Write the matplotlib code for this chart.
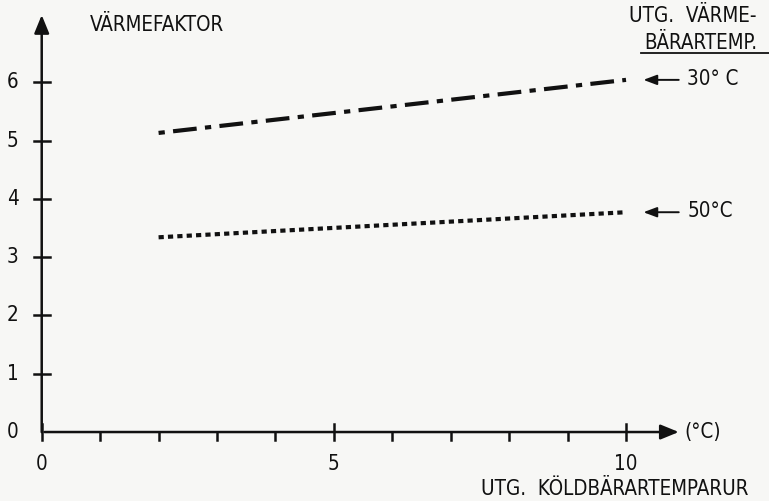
import matplotlib
matplotlib.use('Agg')
import matplotlib.pyplot as plt

# data
temp_in = [2, 10]              # utg. koldbarartemperatur (degC)
cop_30 = [5.13, 6.04]          # utg. varmebarartemp 30 C
cop_50 = [3.34, 3.77]          # utg. varmebarartemp 50 C
xticks = list(range(0, 11))
xlabels = ['0', '5', '10']
yticks = [1, 2, 3, 4, 5, 6]
ylabels = ['0', '1', '2', '3', '4', '5', '6']

plt.rcParams['font.family'] = ['DejaVu Sans']
plt.rcParams['font.stretch'] = 'condensed'
ink = '#111111'
fs = 14.8

fig = plt.figure(figsize=(7.69, 5.01), dpi=100)
fig.patch.set_facecolor('#f7f7f5')
ax = fig.add_axes([0, 0, 1, 1])
ax.set_facecolor('#f7f7f5')
ax.set_xlim(-0.714, 12.447)
ax.set_ylim(-1.183, 7.41)

for s in ax.spines.values():
    s.set_visible(False)
ax.set_xticks([])
ax.set_yticks([])

# axes with arrows
ax.annotate('', xy=(10.95, 0), xytext=(0, 0),
            arrowprops=dict(arrowstyle='-|>,head_length=1.1,head_width=0.45', lw=1.8, color=ink))
ax.annotate('', xy=(0, 7.2), xytext=(0, -0.05),
            arrowprops=dict(arrowstyle='-|>,head_length=1.1,head_width=0.45', lw=1.8, color=ink))

# ticks
for t in xticks:
    if t % 5 == 0:
        ax.plot([t, t], [-0.13, 0.13], color=ink, lw=1.8)
    else:
        ax.plot([t, t], [-0.13, 0], color=ink, lw=1.8)
for t in yticks:
    ax.plot([-0.14, 0.14], [t, t], color=ink, lw=1.8)

for i, lab in enumerate(xlabels):
    ax.text(i * 5, -0.55, lab, ha='center', va='center', fontsize=fs, color=ink)
for i, lab in enumerate(ylabels):
    ax.text(-0.5, i, lab, ha='center', va='center', fontsize=fs, color=ink)

ax.text(11.0, 0, '(°C)', ha='left', va='center', fontsize=fs, color=ink)
ax.text(0.83, 6.98, 'VÄRMEFAKTOR', ha='left', va='center', fontsize=fs, color=ink)
ax.text(12.09, -0.98, 'UTG.  KÖLDBÄRARTEMPARUR', ha='right', va='center', fontsize=fs, color=ink)
ax.text(12.24, 7.13, 'UTG.  VÄRME-', ha='right', va='center', fontsize=fs, color=ink)
ax.text(12.24, 6.67, 'BÄRARTEMP.', ha='right', va='center', fontsize=fs, color=ink)
ax.plot([10.25, 12.45], [6.50, 6.50], color=ink, lw=1.3)

# curves
ax.plot(temp_in, cop_30, color=ink, lw=3.0, solid_capstyle='butt',
        dash_capstyle='butt', linestyle=(0, (1.5, 2.0, 5.7, 2.0)))
ax.plot(temp_in, cop_50, color=ink, lw=3.0, dash_capstyle='butt',
        linestyle=(0, (1.25, 1.0)))

# labels with arrows
ax.annotate('', xy=(10.25, 6.04), xytext=(10.95, 6.04),
            arrowprops=dict(arrowstyle='-|>,head_length=0.8,head_width=0.3', lw=1.4, color=ink))
ax.text(11.05, 6.06, '30° C', ha='left', va='center', fontsize=fs, color=ink)
ax.annotate('', xy=(10.25, 3.77), xytext=(10.95, 3.77),
            arrowprops=dict(arrowstyle='-|>,head_length=0.8,head_width=0.3', lw=1.4, color=ink))
ax.text(11.05, 3.79, '50°C', ha='left', va='center', fontsize=fs, color=ink)

fig.savefig('out.png', dpi=100, facecolor=fig.get_facecolor())
